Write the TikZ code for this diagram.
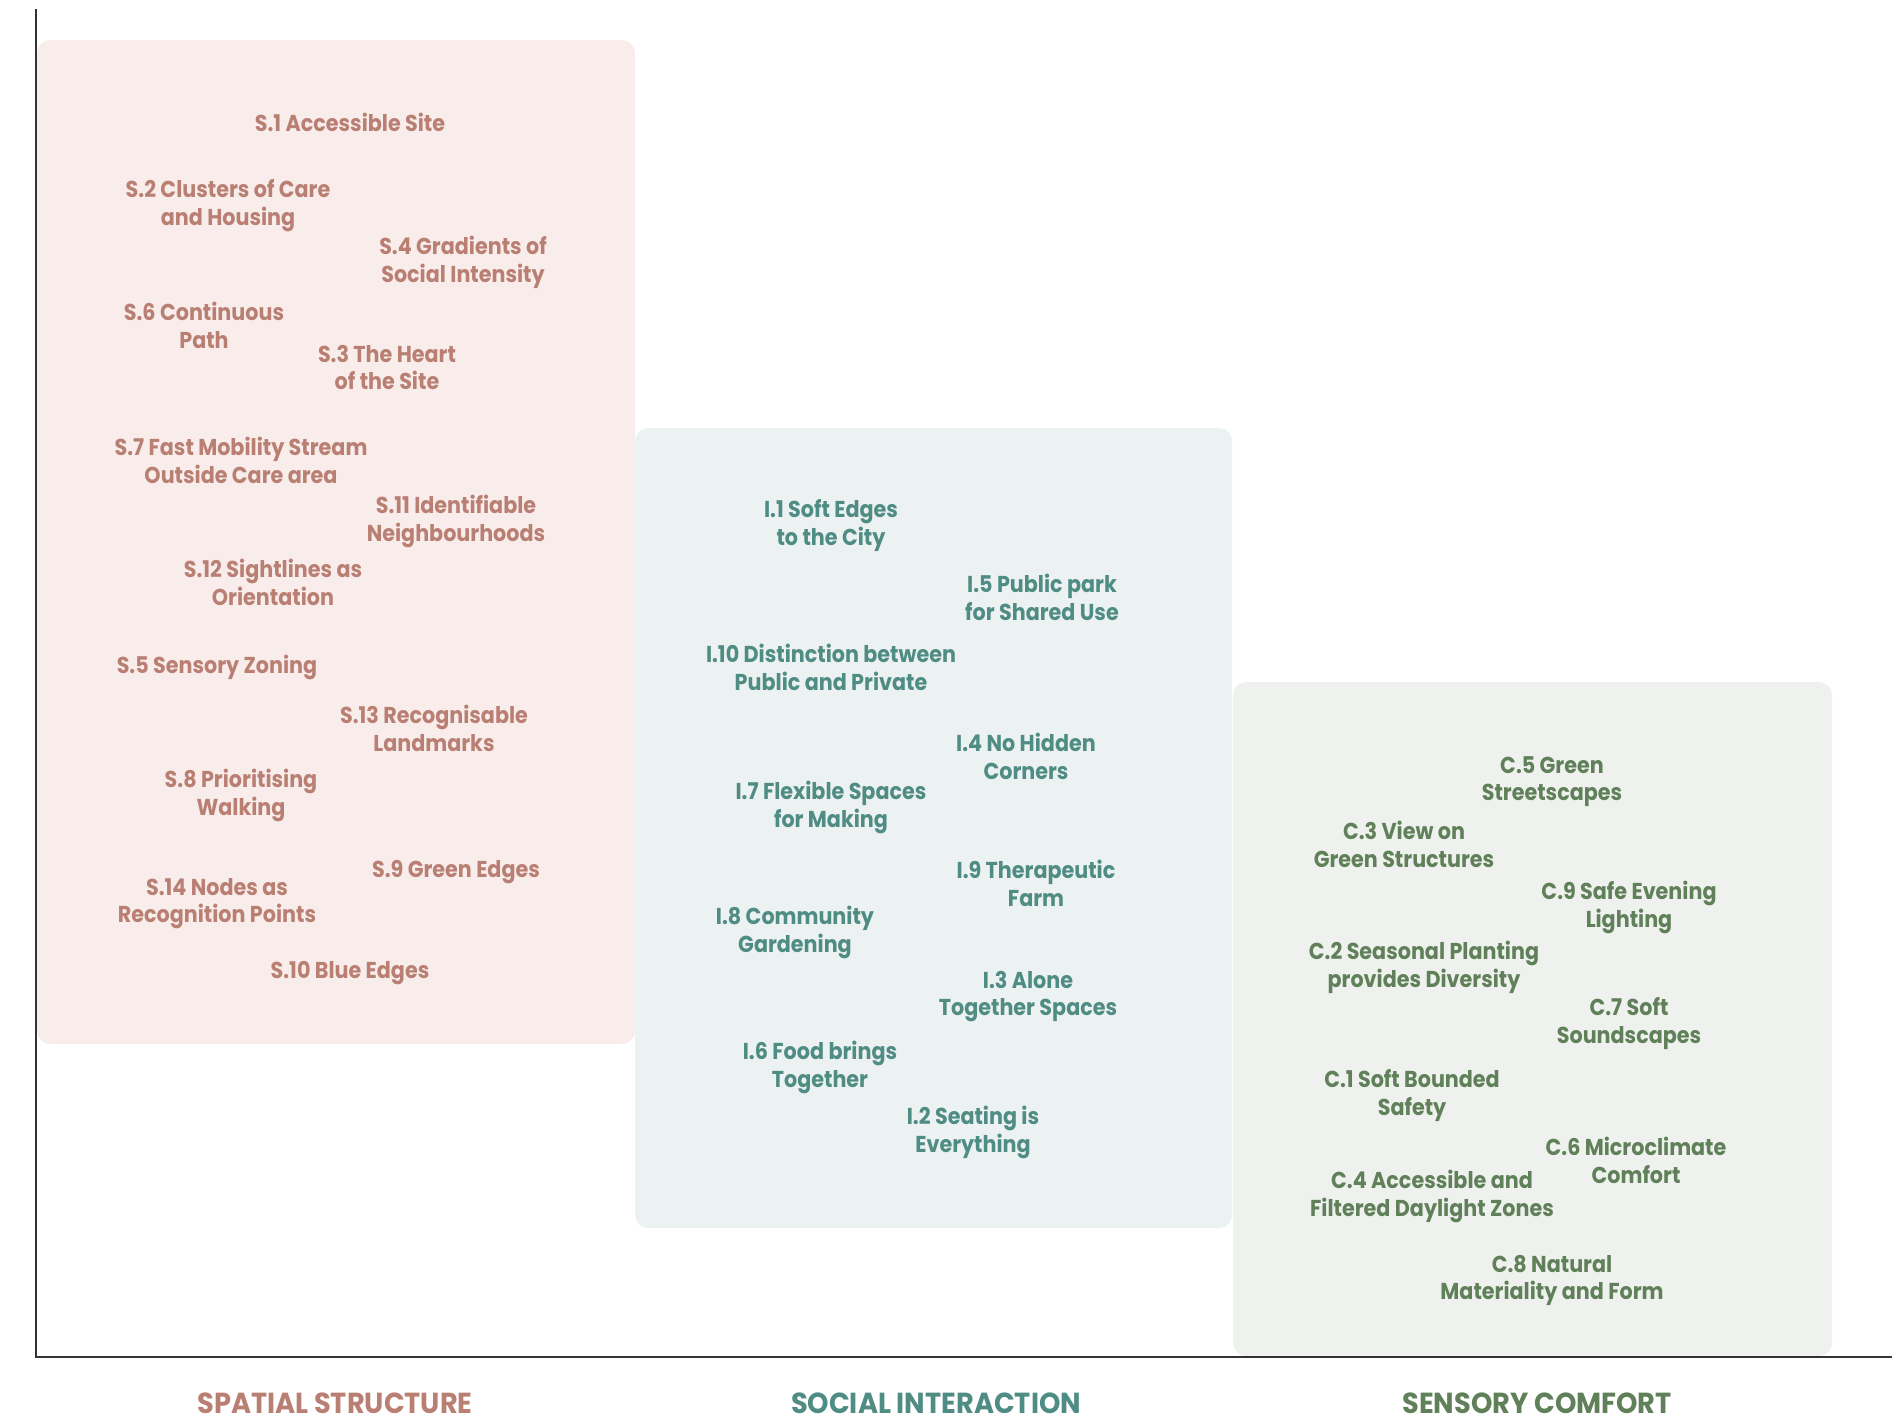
\documentclass[tikz,border=0pt]{standalone}
\usepackage{fontspec}
\setmainfont{Poppins}[FakeStretch=0.9]
\newfontfamily\hdrfont{Poppins}[FakeStretch=0.94]
\definecolor{ptext}{HTML}{BA7F73}
\definecolor{ttext}{HTML}{4F8C84}
\definecolor{gtext}{HTML}{5F8058}
\definecolor{pbox}{HTML}{F8EDEB}
\definecolor{tbox}{HTML}{ECF1F1}
\definecolor{gbox}{HTML}{EFF1EE}
\definecolor{axis}{HTML}{333333}
\tikzset{
  lbl/.style={align=center, inner sep=0pt, yshift=-3.5pt, font=\bfseries\fontsize{23}{27.5}\selectfont},
  sp/.style={lbl, text=ptext},
  si/.style={lbl, text=ttext},
  sc/.style={lbl, text=gtext},
  hdr/.style={inner sep=0pt, anchor=base, text depth=0pt, font=\hdrfont\bfseries\fontsize{29}{32}\selectfont},
  panel/.style={rounded corners=13pt, draw=none}
}
\begin{document}
\begin{tikzpicture}[x=1pt,y=-1pt]
\useasboundingbox (0,0) rectangle (1892,1425);
% panels
\fill[pbox, panel] (37,40) rectangle (635,1044);
\fill[tbox, panel] (635,428) rectangle (1232,1228);
\fill[gbox, panel] (1233,682) rectangle (1832,1356);
% axes
\coordinate (otop) at (36,9);
\coordinate (orig) at (36,1357);
\coordinate (xend) at (1892,1357);
\draw[axis, line width=2pt] (otop) -- (orig) -- (xend);
% spatial structure
\node[sp, yshift=2.5pt] (s1) at (350,121) {S.1 Accessible Site};
\node[sp] (s2) at (228,202) {S.2 Clusters of Care\\and Housing};
\node[sp] (s4) at (463,259) {S.4 Gradients of\\Social Intensity};
\node[sp] (s6) at (204,322) {S.6 Continuous\\Path};
\node[sp] (s3) at (387,364) {S.3 The Heart\\of the Site};
\node[sp] (s7) at (241,457) {S.7 Fast Mobility Stream\\Outside Care area};
\node[sp] (s11) at (456,518) {S.11 Identifiable\\Neighbourhoods};
\node[sp] (s12) at (273,579) {S.12 Sightlines as\\Orientation};
\node[sp] (s5) at (217,664) {S.5 Sensory Zoning};
\node[sp] (s13) at (434,725) {S.13 Recognisable\\Landmarks};
\node[sp] (s8) at (241,792) {S.8 Prioritising\\Walking};
\node[sp] (s9) at (456,869) {S.9 Green Edges};
\node[sp] (s14) at (217,900) {S.14 Nodes as\\Recognition Points};
\node[sp] (s10) at (350,970) {S.10 Blue Edges};
% social interaction
\node[si] (i1) at (831,522) {I.1 Soft Edges\\to the City};
\node[si] (i5) at (1042,594) {I.5 Public park\\for Shared Use};
\node[si] (i10) at (831,664) {I.10 Distinction between\\Public and Private};
\node[si] (i4) at (1026,753) {I.4 No Hidden\\Corners};
\node[si] (i7) at (831,804) {I.7 Flexible Spaces\\for Making};
\node[si] (i9) at (1036,880) {I.9 Therapeutic\\Farm};
\node[si] (i8) at (795,929) {I.8 Community\\Gardening};
\node[si] (i3) at (1028,993) {I.3 Alone\\Together Spaces};
\node[si] (i6) at (820,1064) {I.6 Food brings\\Together};
\node[si] (i2) at (973,1129) {I.2 Seating is\\Everything};
% sensory comfort
\node[sc] (c5) at (1552,778) {C.5 Green\\Streetscapes};
\node[sc] (c3) at (1404,841) {C.3 View on\\Green Structures};
\node[sc] (c9) at (1629,904) {C.9 Safe Evening\\Lighting};
\node[sc] (c2) at (1424,964) {C.2 Seasonal Planting\\provides Diversity};
\node[sc] (c7) at (1629,1020) {C.7 Soft\\Soundscapes};
\node[sc] (c1) at (1412,1092) {C.1 Soft Bounded\\Safety};
\node[sc] (c6) at (1636,1157) {C.6 Microclimate\\Comfort};
\node[sc] (c4) at (1432,1193) {C.4 Accessible and\\Filtered Daylight Zones};
\node[sc] (c8) at (1552,1277) {C.8 Natural\\Materiality and Form};
% headers
\node[hdr, text=ptext] (h1) at (335,1413) {SPATIAL STRUCTURE};
\node[hdr, text=ttext] (h2) at (936,1413) {SOCIAL INTERACTION};
\node[hdr, text=gtext] (h3) at (1537,1413) {SENSORY COMFORT};
\end{tikzpicture}
\end{document}
